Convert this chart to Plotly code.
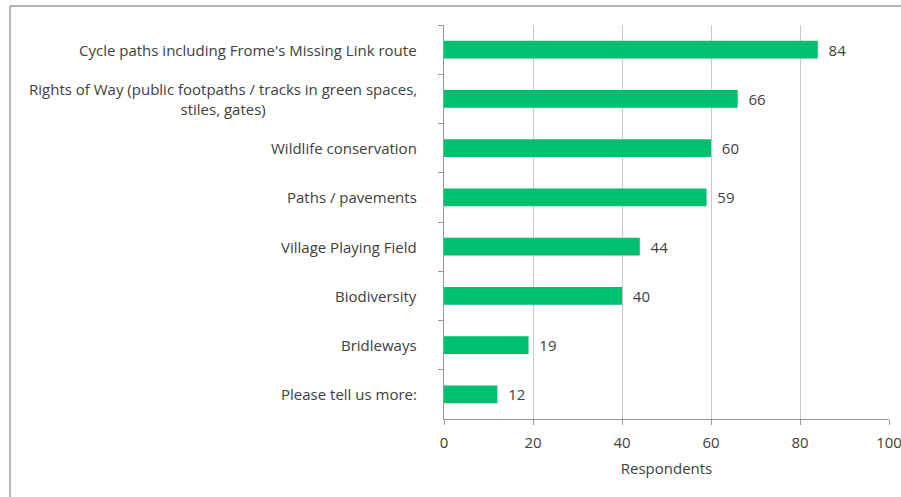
import plotly.graph_objects as go

categories = [
    "Cycle paths including Frome's Missing Link route",
    "Rights of Way (public footpaths / tracks in green spaces,<br>stiles, gates)",
    "Wildlife conservation",
    "Paths / pavements",
    "Village Playing Field",
    "Biodiversity",
    "Bridleways",
    "Please tell us more:",
]
respondents = [84, 66, 60, 59, 44, 40, 19, 12]
x_ticks = [0, 20, 40, 60, 80, 100]

W, H = 901, 497
L, R, T, B = 444, 12, 25, 78
pw, ph = W - L - R, H - T - B

FONT = "Open Sans"
TXT = "#404040"
FS = 15

fig = go.Figure()
fig.add_trace(go.Bar(
    x=respondents,
    y=categories,
    orientation="h",
    marker=dict(color="#00BF6F", line=dict(width=0)),
    text=[f"  {v}" for v in respondents],
    textposition="outside",
    constraintext="none",
    textfont=dict(family=FONT, size=FS, color=TXT),
    cliponaxis=False,
    hoverinfo="skip",
))

annotations = []
for c in categories:
    annotations.append(dict(
        x=0, xref="paper", y=c, yref="y",
        text=c, showarrow=False, xanchor="right", yanchor="middle",
        align="center", xshift=-25,
        font=dict(family=FONT, size=FS, color=TXT),
    ))

# chart frame (left and top edges)
fx = (10 - L) / pw
fy = (H - B - 6) / ph
shapes = [
    dict(type="line", xref="paper", yref="paper", x0=fx, x1=fx, y0=-1, y1=fy,
         line=dict(color="#b3b3b3", width=2)),
    dict(type="line", xref="paper", yref="paper", x0=fx, x1=2, y0=fy, y1=fy,
         line=dict(color="#b3b3b3", width=2)),
]

fig.update_layout(
    width=W, height=H, autosize=False,
    margin=dict(l=L, r=R, t=T, b=B, pad=0, autoexpand=False),
    paper_bgcolor="white", plot_bgcolor="white",
    showlegend=False,
    bargap=0.635,
    font=dict(family=FONT, size=FS, color=TXT),
    annotations=annotations,
    shapes=shapes,
    xaxis=dict(
        range=[0, 100], tickvals=x_ticks, ticktext=[str(v) for v in x_ticks],
        showgrid=True, gridcolor="#c8c8c8", gridwidth=1,
        showline=True, linecolor="#999999", linewidth=1,
        ticks="outside", ticklen=5, tickcolor="#999999",
        ticklabelstandoff=5, ticklabeloverflow="allow",
        automargin=False,
        zeroline=False,
        tickfont=dict(family=FONT, size=FS, color=TXT),
        title=dict(text="Respondents", font=dict(family=FONT, size=FS, color=TXT), standoff=12),
        fixedrange=True,
    ),
    yaxis=dict(
        autorange="reversed",
        showticklabels=False,
        showgrid=False,
        showline=True, linecolor="#999999", linewidth=1,
        ticks="outside", ticklen=5, tickcolor="#999999",
        tickson="boundaries",
        automargin=False,
        zeroline=False,
        fixedrange=True,
    ),
)

fig.write_html(
    "out.html",
    config={"responsive": False, "displayModeBar": False},
    post_script="document.body.style.margin='0';document.body.style.overflow='hidden';",
)
